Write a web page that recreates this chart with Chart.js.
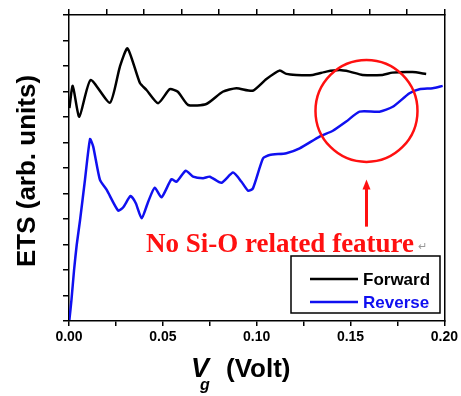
<!DOCTYPE html>
<html>
<head>
<meta charset="utf-8">
<script src="https://cdn.jsdelivr.net/npm/chart.js@4.4.0/dist/chart.umd.min.js"></script>
<style>
  body { margin: 0; background: #fff; }
  #wrap { width: 461px; height: 396px; }
</style>
</head>
<body>
<div id="wrap"><canvas id="etsChart" width="461" height="396"></canvas></div>
<script>
// gate voltage (V) and ETS signal (arb. units)
var forwardV = [0.0002, 0.002, 0.0055, 0.0115, 0.0218, 0.0271, 0.0312, 0.0378, 0.0413, 0.0475, 0.0537, 0.058,
    0.0635, 0.0732, 0.0819, 0.0892, 0.0979, 0.1052, 0.1122, 0.1158, 0.1211, 0.1298, 0.1371, 0.1441, 0.1495,
    0.1564, 0.167, 0.1723, 0.183, 0.1903];
var forwardETS = [8.35, 9.22, 8.01, 9.45, 8.56, 9.97, 10.69, 9.33, 9.06, 8.54, 9.09, 8.99,
    8.47, 8.51, 8.99, 9.13, 9.03, 9.49, 9.82, 9.69, 9.65, 9.65, 9.78, 9.84, 9.78,
    9.65, 9.65, 9.74, 9.76, 9.69];

var reverseV = [0.0002, 0.0013, 0.0027, 0.0041, 0.0059, 0.0085, 0.0112, 0.0129, 0.0165, 0.0201, 0.0262, 0.0289,
    0.0328, 0.0356, 0.0387, 0.0422, 0.0457, 0.0493, 0.0546, 0.0573, 0.0622, 0.0661, 0.0714, 0.075,
    0.0812, 0.0874, 0.0919, 0.0954, 0.098, 0.1034, 0.1069, 0.1158, 0.1229, 0.1335, 0.1406, 0.1477,
    0.1548, 0.1654, 0.1725, 0.1814, 0.1867, 0.1938, 0.1991];
var reverseETS = [0.04, 0.82, 2.0, 2.98, 3.96, 5.53, 7.13, 6.84, 5.53, 5.14, 4.33, 4.46,
    4.90, 4.62, 4.03, 4.68, 5.23, 4.85, 5.56, 5.46, 5.89, 5.66, 5.60, 5.66,
    5.42, 5.82, 5.46, 5.11, 5.20, 6.38, 6.51, 6.58, 6.77, 7.23, 7.46, 7.82,
    8.21, 8.21, 8.40, 8.93, 9.09, 9.13, 9.22];

var seriesNames = ['Forward', 'Reverse'];
var seriesColors = ['#000000', '#1010f0'];
var xTickStep = 0.025;
var xLabelStep = 0.05;

function toPoints(xs, ys) {
    var pts = [];
    for (var i = 0; i < xs.length; i++) pts.push({x: xs[i], y: ys[i]});
    return pts;
}

var SANS = '"Liberation Sans", Arial, sans-serif';
var SERIF = '"Liberation Serif", "Times New Roman", serif';

var extras = {
    id: 'extras',
    afterDraw: function (chart) {
        var c = chart.ctx;
        var xs = chart.scales.x, ys = chart.scales.y;
        c.save();

        // red circle around the reverse curve
        var cx = xs.getPixelForValue(0.1585), cy = ys.getPixelForValue(8.24);
        c.strokeStyle = '#ff1010';
        c.lineWidth = 2.5;
        c.beginPath();
        c.arc(cx, cy, 51, 0, Math.PI * 2);
        c.stroke();

        // arrow pointing up at the circle
        var aTop = ys.getPixelForValue(5.55), aBot = ys.getPixelForValue(3.7);
        c.fillStyle = '#ff1010';
        c.lineWidth = 3;
        c.beginPath();
        c.moveTo(cx, aBot);
        c.lineTo(cx, aTop + 8);
        c.stroke();
        c.beginPath();
        c.moveTo(cx, aTop);
        c.lineTo(cx - 4, aTop + 10);
        c.lineTo(cx + 4, aTop + 10);
        c.closePath();
        c.fill();

        // annotation text
        c.font = 'bold 27px ' + SERIF;
        c.textAlign = 'center';
        c.textBaseline = 'alphabetic';
        c.fillText('No Si-O related feature', 280, 252);
        c.fillStyle = '#999';
        c.font = '11px ' + SANS;
        c.textAlign = 'left';
        c.fillText('\u21B5', 418, 250);

        // legend box
        c.fillStyle = '#fff';
        c.fillRect(291, 256, 149, 57);
        c.strokeStyle = '#000';
        c.lineWidth = 1.5;
        c.strokeRect(291, 256, 149, 57);
        c.font = 'bold 17px ' + SANS;
        for (var i = 0; i < seriesNames.length; i++) {
            var ly = 279 + i * 23;
            c.strokeStyle = seriesColors[i];
            c.lineWidth = 2.5;
            c.beginPath();
            c.moveTo(310, ly);
            c.lineTo(358, ly);
            c.stroke();
            c.fillStyle = seriesColors[i];
            c.textAlign = 'left';
            c.textBaseline = 'middle';
            c.fillText(seriesNames[i], 363, ly + 1);
        }

        // axis titles
        c.fillStyle = '#000';
        c.textBaseline = 'alphabetic';
        c.font = 'italic bold 27px ' + SANS;
        c.textAlign = 'left';
        c.fillText('V', 191, 377);
        c.font = 'italic bold 16px ' + SANS;
        c.fillText('g', 200, 390);
        c.font = 'bold 26px ' + SANS;
        c.fillText('(Volt)', 226, 377);

        c.translate(35, 171);
        c.rotate(-Math.PI / 2);
        c.textAlign = 'center';
        c.font = 'bold 26px ' + SANS;
        c.fillText('ETS (arb. units)', 0, 0);
        c.restore();
    }
};

var ctx = document.getElementById('etsChart').getContext('2d');
var etsChart = new Chart(ctx, {
    type: 'line',
    data: {
        datasets: [{
            label: seriesNames[0],
            data: toPoints(forwardV, forwardETS),
            borderColor: seriesColors[0],
            borderWidth: 2.5,
            pointRadius: 0,
            tension: 0.2
        },
        {
            label: seriesNames[1],
            data: toPoints(reverseV, reverseETS),
            borderColor: seriesColors[1],
            borderWidth: 2.5,
            pointRadius: 0,
            tension: 0.2
        }]
    },
    plugins: [extras],
    options: {
        responsive: false,
        animation: false,
        layout: { padding: 0 },
        scales: {
            x: {
                type: 'linear',
                position: 'bottom',
                min: 0,
                max: 0.2,
                afterFit: function (s) { s.height = 75; },
                border: { display: true, color: '#000', width: 1.5 },
                grid: { drawOnChartArea: false, drawTicks: true, tickLength: 5, color: '#000', lineWidth: 1.5 },
                ticks: {
                    stepSize: xTickStep,
                    padding: 3,
                    color: '#000',
                    font: { family: SANS, size: 14, weight: 'bold' },
                    maxRotation: 0,
                    callback: function (v) {
                        var k = v / xLabelStep;
                        return Math.abs(k - Math.round(k)) < 1e-6 ? v.toFixed(2) : '';
                    }
                }
            },
            x2: {
                type: 'linear',
                position: 'top',
                min: 0,
                max: 0.2,
                afterFit: function (s) { s.height = 15; },
                border: { display: true, color: '#000', width: 1.5 },
                grid: { drawOnChartArea: false, drawTicks: true, tickLength: 6, color: '#000', lineWidth: 1.5 },
                ticks: { stepSize: 0.02, display: false }
            },
            y: {
                min: 0,
                max: 12,
                afterFit: function (s) { s.width = 69; },
                border: { display: true, color: '#000', width: 1.5 },
                grid: { drawOnChartArea: false, drawTicks: true, tickLength: 6, color: '#000', lineWidth: 1.5 },
                ticks: { stepSize: 1, display: false }
            },
            y2: {
                position: 'right',
                min: 0,
                max: 12,
                afterFit: function (s) { s.width = 16; },
                border: { display: true, color: '#000', width: 1.5 },
                grid: { display: false },
                ticks: { display: false }
            }
        },
        plugins: {
            legend: { display: false },
            tooltip: { enabled: false }
        }
    }
});
</script>
</body>
</html>
